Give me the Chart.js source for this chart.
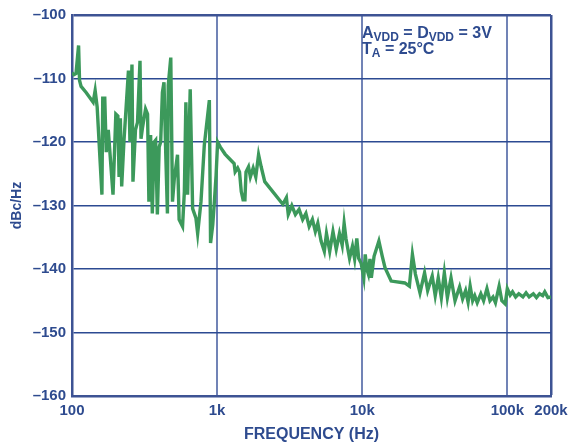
<!DOCTYPE html>
<html>
<head>
<meta charset="utf-8">
<script src="https://cdn.jsdelivr.net/npm/chart.js@4.4.1/dist/chart.umd.min.js"></script>
<style>
html,body{margin:0;padding:0;background:#fff;}
#wrap{width:569px;height:444px;position:relative;}
</style>
</head>
<body>
<div id="wrap"><canvas id="c"></canvas></div>
<script>
// Frequency (Hz) of each trace point
const freqHz = [100,103.2,106.6,111,112.7,115.5,125.1,139.9,144.4,149.1,160.8,162.9,168.2,172.2,177.8,191.7,200.5,207,211,215.4,220,227.9,244.9,250.8,259,263.1,273.8,282.7,294.2,299,306.3,321.3,331.7,338.8,348.1,357.7,368.1,377.1,387.5,398.8,408.5,419.7,430.5,442.4,454.6,460.5,479.4,492.6,507,533.5,547.3,577.9,594.8,609.2,626,652.6,678.2,714.8,734.5,774.3,816.2,884.3,901.4,933.5,957.7,984.2,1008,
1053,1134,1235,1310,1332,1386,1427,1467,1510,1555,1582,1646,1695,1772,1847,1931,2012,2130,2838,3003,3093,3273,3464,3672,3887,4092,4309,4537,4753,4943,5205,5481,5672,5972,6288,6622,6971,7276,7506,7727,8178,8566,8867,9178,9451,9829,
10250,10490,10750,11020,11310,11560,12070,13030,13750,14360,15830,19670,21140,22180,23260,25010,26890,28250,30370,31860,33420,35100,36810,38630,40930,43610,46900,49180,51590,53650,55460,57680,59640,62020,65700,68630,72380,75930,79670,82830,87790,91680,96720,100000,
104600,108600,114100,119900,128100,134600,141400,151100,158800,166900,175300,181200,190400,200000];
// Phase noise (dBc/Hz)
const noiseDbc = [-109.1,-109.4,-109.2,-104.8,-110.3,-111.25,-112.2,-113.75,-111.9,-114.5,-128.3,-113.1,-113.1,-121.6,-118.1,-128.3,-115.6,-115.9,-125.5,-116.25,-127,-120,-108.75,-120,-107.8,-126.25,-118.1,-116.9,-107.2,-119.5,-117.7,-114.8,-115.6,-129.4,-118.9,-131.25,-120,-119.7,-131.4,-120.8,-120,-112.2,-110.6,-121.6,-131.25,-111.1,-106.7,-129.4,-125.8,-122,-132.2,-133.3,-127.8,-113.75,-128.3,-111.7,-130.5,-132,-134.4,-129.4,-120.5,-113.4,-135.9,-133,-129.4,-125.2,-120,
-120.8,-121.9,-122.8,-123.4,-124.7,-124.1,-124.7,-127.8,-129.1,-129.1,-124.7,-123.9,-125.5,-124.1,-125.5,-122,-123.9,-126.25,-129.8,-128.75,-131.4,-130,-131.4,-130.6,-132.2,-131.25,-133.3,-132.2,-134.1,-132.8,-135.6,-137.2,-134.4,-137.2,-134.1,-136.9,-134.4,-136.25,-132.8,-135.2,-138.3,-136.4,-138.4,-135.2,-138.3,-139.1,
-141.4,-137.7,-140,-140.8,-138.4,-141.4,-138,-135.6,-138,-139.8,-141.9,-142.2,-142.7,-137.7,-140.8,-143.75,-140.6,-143.4,-141.1,-144.2,-141.4,-144.5,-140.6,-144.5,-141.4,-145,-142.8,-144.7,-143.4,-145.2,-142.7,-145,-144.2,-145.3,-143.9,-145,-143.1,-145,-144.4,-145.3,-142.7,-145,-145.5,-143.1,
-144.1,-143.6,-144.4,-143.9,-144.4,-143.75,-144.4,-143.9,-144.5,-143.9,-144.2,-143.6,-144.5,-144.4];
const xTickValues = [100,1000,10000,100000,200000];
const xTickLabels = ['100','1k','10k','100k','200k'];

const NAVY = '#2c4a92';
const TEXT = '#2e4b8f';
const VGRID = '#7183b6';
const BORDER = '#3d5394';
const FONT = '"Liberation Sans", Arial, sans-serif';

const points = freqHz.map((f,i)=>({x:f,y:noiseDbc[i]}));

const annot = {
  id:'annot',
  afterDraw(chart){
    const ctx = chart.ctx;
    ctx.save();
    ctx.fillStyle = TEXT;
    ctx.textBaseline = 'alphabetic';
    function rich(x,y,segs){
      for(const s of segs){
        ctx.font = 'bold ' + (s.sub?12:16) + 'px ' + FONT;
        ctx.fillText(s.t, x, y + (s.sub?2.5:0));
        x += ctx.measureText(s.t).width;
      }
    }
    rich(362,38,[{t:'A'},{t:'VDD',sub:1},{t:' = D'},{t:'VDD',sub:1},{t:' = 3V'}]);
    rich(362,54,[{t:'T'},{t:'A',sub:1},{t:' = 25°C'}]);
    ctx.restore();
  }
};

new Chart(document.getElementById('c'),{
  type:'line',
  data:{datasets:[{data:points,borderColor:'#3c995b',borderWidth:3.4,pointRadius:0,tension:0,fill:false}]},
  options:{
    responsive:true,maintainAspectRatio:false,animation:false,
    layout:{padding:{top:12,right:18,left:0,bottom:0}},
    plugins:{legend:{display:false},tooltip:{enabled:false}},
    scales:{
      x:{
        type:'logarithmic',min:100,max:200000,
        afterBuildTicks(s){ s.ticks = xTickValues.map(v=>({value:v})); },
        afterFit(s){ s.height = 48; s.paddingRight = 0; s.paddingLeft = 0; },
        ticks:{autoSkip:false,maxRotation:0,color:TEXT,font:{family:FONT,size:15,weight:'bold'},padding:6,
          callback(v){ const i = xTickValues.indexOf(v); return i>=0?xTickLabels[i]:''; }},
        grid:{drawTicks:false,
          color(c){ const v=c.tick&&c.tick.value; return (v===200000)?BORDER:VGRID; },
          lineWidth(c){ const v=c.tick&&c.tick.value; return (v===200000)?2.5:2; }},
        border:{display:true,color:BORDER,width:2.5},
        title:{display:true,text:'FREQUENCY (Hz)',color:TEXT,font:{family:FONT,size:16,weight:'bold'},padding:{top:0,bottom:0}}
      },
      y:{
        min:-160,max:-100,
        afterFit(s){ s.width = 72; },
        ticks:{stepSize:10,color:TEXT,font:{family:FONT,size:15,weight:'bold'},padding:6,
          callback(v){ return '\u2013' + Math.abs(v); }},
        grid:{drawTicks:false,
          color(c){ const v=c.tick&&c.tick.value; return (v===-100)?BORDER:NAVY; },
          lineWidth(c){ const v=c.tick&&c.tick.value; return (v===-100)?2.5:1.5; }},
        border:{display:true,color:BORDER,width:2.5},
        title:{display:true,text:'dBc/Hz',color:TEXT,font:{family:FONT,size:14,weight:'bold'},padding:{top:9,bottom:0}}
      }
    }
  },
  plugins:[annot]
});
</script>
</body>
</html>
